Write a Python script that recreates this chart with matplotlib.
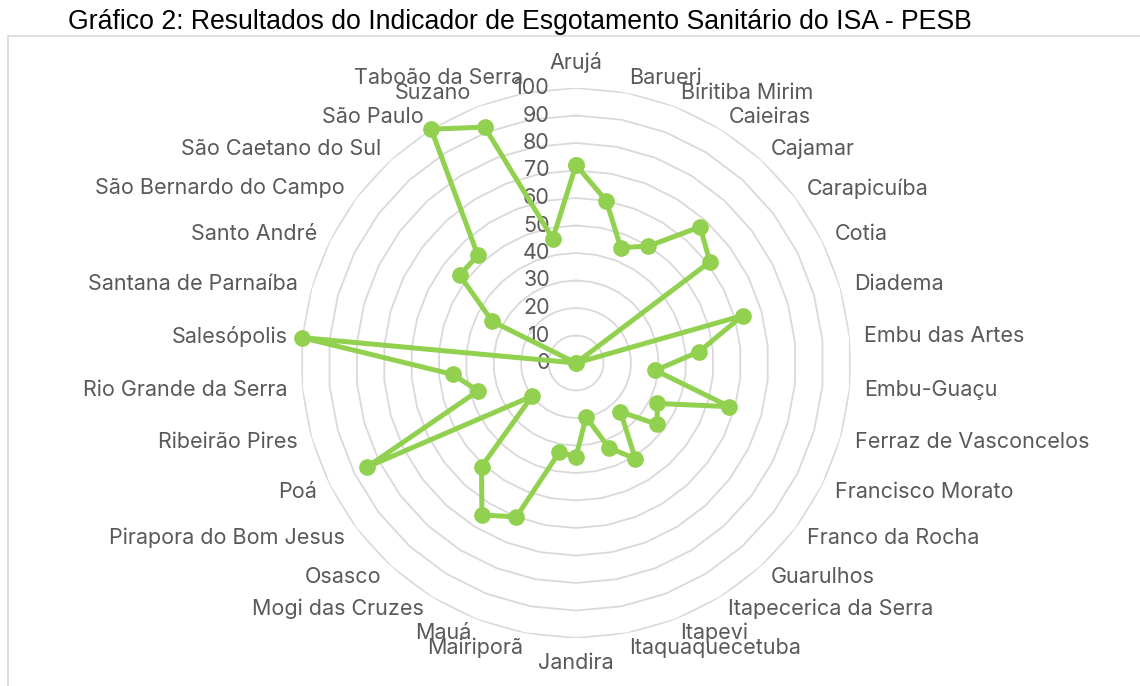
import numpy as np
import matplotlib
matplotlib.use('Agg')
import matplotlib.pyplot as plt
from matplotlib.patches import Rectangle

# municipalities (clockwise from the top)
municipios = ['Arujá', 'Barueri', 'Biritiba Mirim', 'Caieiras', 'Cajamar', 'Carapicuíba',
              'Cotia', 'Diadema', 'Embu das Artes', 'Embu-Guaçu', 'Ferraz de Vasconcelos',
              'Francisco Morato', 'Franco da Rocha', 'Guarulhos', 'Itapecerica da Serra',
              'Itapevi', 'Itaquaquecetuba', 'Jandira', 'Mairiporã', 'Mauá', 'Mogi das Cruzes',
              'Osasco', 'Pirapora do Bom Jesus', 'Poá', 'Ribeirão Pires', 'Rio Grande da Serra',
              'Salesópolis', 'Santana de Parnaíba', 'Santo André', 'São Bernardo do Campo',
              'São Caetano do Sul', 'São Paulo', 'Suzano', 'Taboão da Serra']

# indicador de esgotamento sanitario (ISA)
valores = [72, 60, 45, 50, 67, 61,
           0, 63, 45, 29, 58,
           33, 37, 24, 41,
           33, 20, 34, 33, 60, 65,
           51, 20, 85, 37, 45,
           100, 0, 34, 53,
           53, 100, 92, 46]

ticks_r = [0, 10, 20, 30, 40, 50, 60, 70, 80, 90, 100]

verde = '#92D050'
cinza_txt = '#595959'
cinza_grid = '#D9D9D9'
fonte = 'Inter'
tam = 15.5

W, H = 1140, 686
cx, cy, R = 576, 363, 275

fig = plt.figure(figsize=(W / 100, H / 100), dpi=100)
fig.patches.append(Rectangle((8 / W, -0.1), 1.2, (H - 36) / H + 0.1, transform=fig.transFigure,
                             fill=False, edgecolor=cinza_grid, lw=1.2))
fig.text(68 / W, 1 - 22 / H, 'Gráfico 2: Resultados do Indicador de Esgotamento Sanitário do ISA - PESB',
         fontsize=19.2, family='Liberation Sans', color='black', va='center', ha='left')

ax = fig.add_axes([(cx - R) / W, (H - cy - R) / H, 2 * R / W, 2 * R / H], projection='polar')
ax.set_theta_zero_location('N')
ax.set_theta_direction(-1)
ax.set_ylim(0, 100)
ax.grid(False)
ax.spines['polar'].set_visible(False)
ax.set_xticks([])
ax.set_yticks([])
ax.patch.set_alpha(0)

n = len(municipios)
ang = np.arange(n) * 2 * np.pi / n
ang_fech = np.append(ang, ang[0])

# polygonal gridlines
for r in ticks_r[1:]:
    ax.plot(ang_fech, [r] * (n + 1), color=cinza_grid, lw=1.3, zorder=1)

# radial tick labels, left of the top spoke
for r in ticks_r:
    ax.annotate(str(r), xy=(0, r), xytext=(-26, 0), textcoords='offset pixels',
                ha='right', va='center', fontsize=tam, family=fonte, color=cinza_txt, zorder=2)

vals = np.append(valores, valores[0])
ax.plot(ang_fech, vals, color=verde, lw=3.6, marker='o', markersize=11,
        markerfacecolor=verde, markeredgecolor=verde, zorder=3, clip_on=False)

# category labels
for a, nome in zip(ang, municipios):
    s = np.sin(a)
    if abs(s) < 1e-6:
        ha = 'center'
        va = 'bottom' if np.cos(a) > 0 else 'top'
    else:
        ha = 'left' if s > 0 else 'right'
        va = 'center'
    ax.text(a, 105.3, nome, ha=ha, va=va, fontsize=tam, family=fonte, color=cinza_txt,
            clip_on=False)

fig.savefig('out.png', dpi=100)
